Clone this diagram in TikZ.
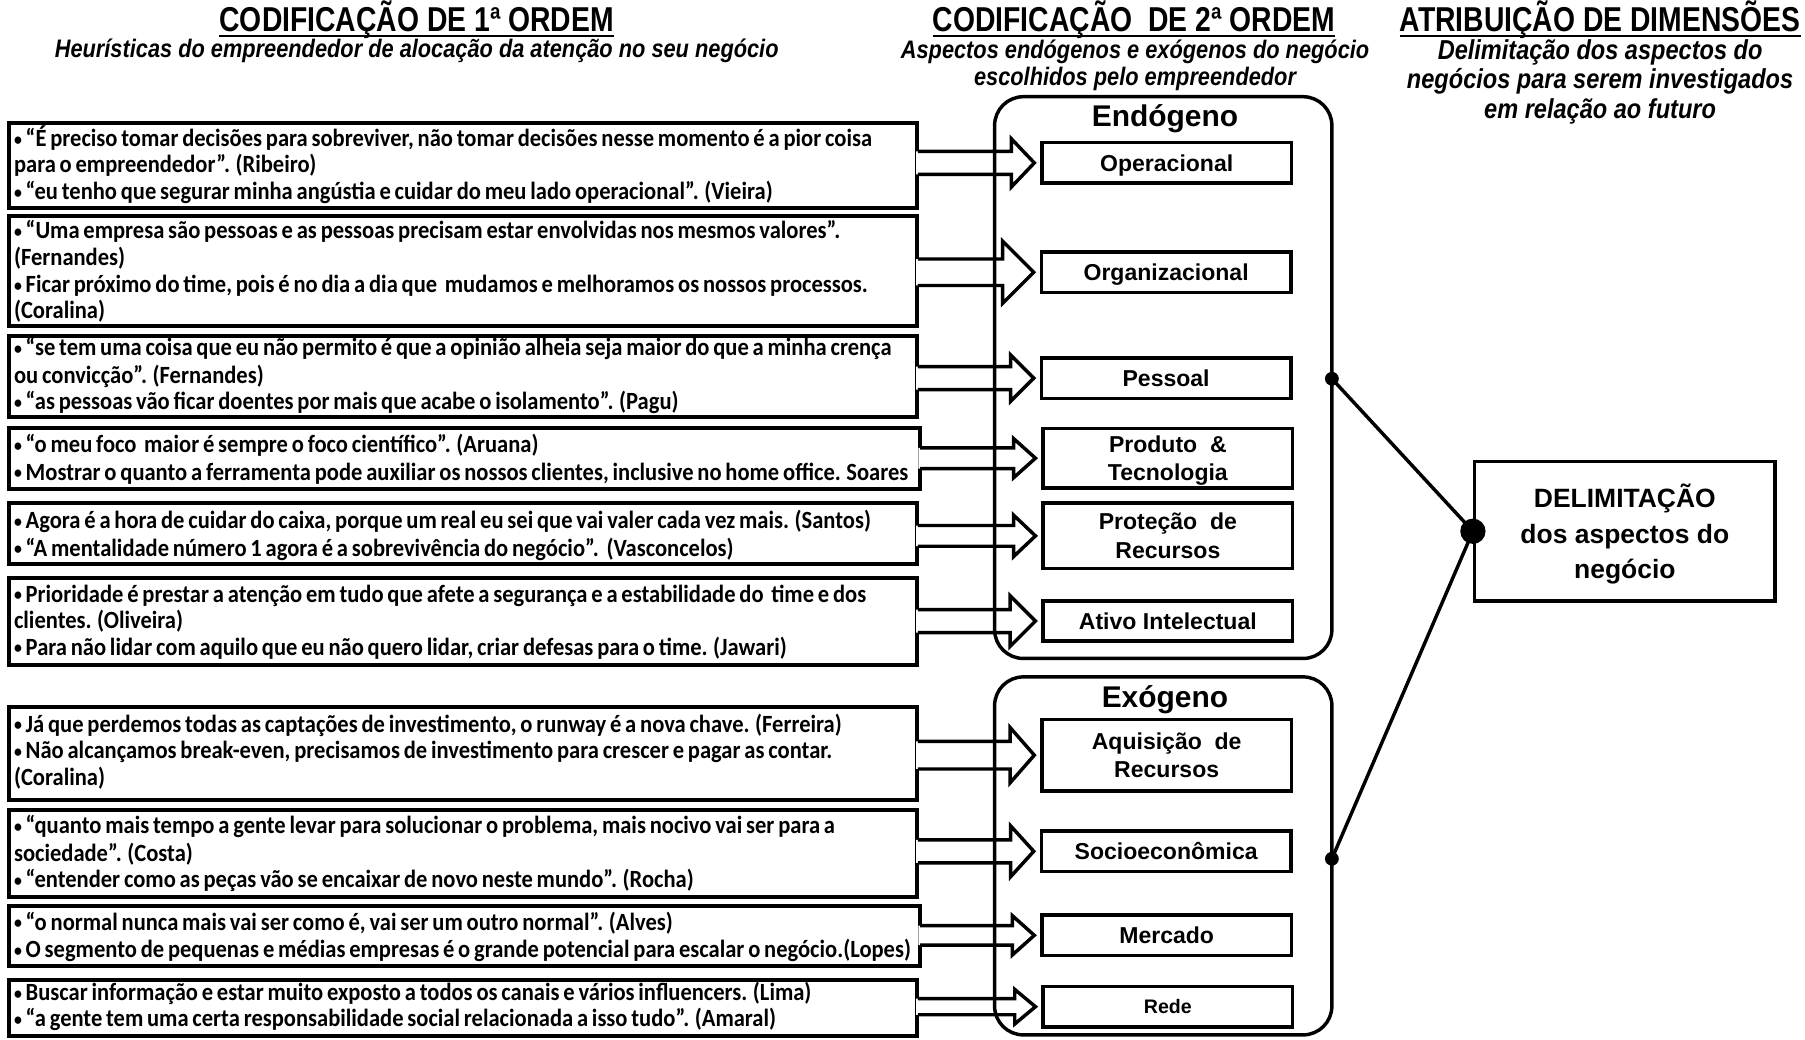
\documentclass[tikz,border=0pt]{standalone}
\usepackage{fontspec}
\usepackage{graphicx}
\usetikzlibrary{calc,fit}
\setmainfont{Liberation Sans}
\newfontfamily\qfont{Carlito}[FakeStretch=0.91, WordSpace=0.75]
\newfontfamily\hfont{Liberation Sans}[FakeStretch=0.82]
\newfontfamily\sfont{Liberation Sans}[FakeStretch=0.86]

% small list bullet used in the quotes
\newcommand\qb{\raisebox{1pt}{\scalebox{0.7}{•}}}

\tikzset{
  qbox/.style={draw, line width=3.5pt, inner sep=0pt},
  qtext/.style={anchor=base west, inner sep=0pt,
    font=\qfont\bfseries\fontsize{21.5}{24}\selectfont},
  catbox/.style={draw, line width=3pt, fill=white, inner sep=0pt, text depth=0pt,
    minimum width=217pt, minimum height=35pt, align=center,
    font=\bfseries\fontsize{20}{25}\selectfont},
  groupbox/.style={draw, line width=3pt, rounded corners=25pt, inner sep=0pt},
  grouptitle/.style={anchor=base, inner sep=0pt, font=\bfseries\fontsize{26}{30}\selectfont},
  htitle/.style={anchor=base, inner sep=0pt, font=\hfont\bfseries\fontsize{30}{34}\selectfont},
  hsub/.style={anchor=base, inner sep=0pt, font=\sfont\bfseries\itshape\fontsize{22}{26}\selectfont},
  hsubwide/.style={anchor=base, inner sep=0pt, font=\sfont\bfseries\itshape\fontsize{23.8}{27}\selectfont},
  uline/.style={line width=2pt},
  arrowline/.style={line width=3pt, line join=miter},
  link/.style={line width=3pt},
  resultbox/.style={draw, line width=3pt, inner sep=0pt, align=center, text depth=0pt,
    font=\bfseries\fontsize{23}{30.5}\selectfont},
}

% outlined block arrow from a quote box (#1) to a category box (#2);
% #3 shaft half width, #4 head half width, #5 head length
\newcommand\blockarrow[5]{%
  \coordinate (#2-s) at (#1.east |- #2.west);
  \coordinate (#2-t) at ($(#2.west)+(-5,0)$);
  \path[fill=white] ($(#2-s)+(-3,-#3)$) -- ($(#2-t)+(-#5,-#3)$) -- ($(#2-t)+(-#5,-#4)$)
     -- (#2-t) -- ($(#2-t)+(-#5,#4)$) -- ($(#2-t)+(-#5,#3)$) -- ($(#2-s)+(-3,#3)$) -- cycle;
  \draw[arrowline] ($(#2-s)+(-1.5,-#3)$) -- ($(#2-t)+(-#5,-#3)$) -- ($(#2-t)+(-#5,-#4)$)
     -- (#2-t) -- ($(#2-t)+(-#5,#4)$) -- ($(#2-t)+(-#5,#3)$) -- ($(#2-s)+(-1.5,#3)$);
}

\begin{document}
\begin{tikzpicture}[x=1pt,y=-1pt]
\useasboundingbox (0,0) rectangle (1568,903);

% ---------- column headings ----------
\node[htitle] (h1) at (362,27) {CODIFICAÇÃO DE 1ª ORDEM};
\node[htitle] (h2) at (985,27) {CODIFICAÇÃO\ \ DE 2ª ORDEM};
\node[htitle] (h3) at (1390,27) {ATRIBUIÇÃO DE DIMENSÕES};
\foreach \h in {h1,h2,h3}
  \draw[uline] ($(\h.base west)+(0,4)$) -- ($(\h.base east)+(0,4)$);

\node[hsub] (s1) at (362,50) {Heurísticas do empreendedor de alocação da atenção no seu negócio};
\node[hsub] (s2a) at (986,51) {Aspectos endógenos e exógenos do negócio};
\node[hsub] (s2b) at (986,74) {escolhidos pelo empreendedor};
\node[hsubwide] (s3a) at (1390,52) {Delimitação dos aspectos do};
\node[hsubwide] (s3b) at (1390,77) {negócios para serem investigados};
\node[hsubwide] (s3c) at (1390,103) {em relação ao futuro};

% ---------- quote boxes ----------
\node[qbox, fit={(8,107) (797,181)}] (q1) {};
\node[qbox, fit={(8,188) (797,283)}] (q2) {};
\node[qbox, fit={(8,292) (797,362)}] (q3) {};
\node[qbox, fit={(8,372) (799,425)}] (q4) {};
\node[qbox, fit={(8,437) (797,490)}] (q5) {};
\node[qbox, fit={(8,502) (797,578)}] (q6) {};
\node[qbox, fit={(8,614) (797,695)}] (q7) {};
\node[qbox, fit={(8,704) (797,779)}] (q8) {};
\node[qbox, fit={(8,787) (799,839)}] (q9) {};
\node[qbox, fit={(8,851) (797,900)}] (q10) {};

% ---------- category boxes ----------
\node[catbox] (c1) at (1013.5,141.5) {Operacional};
\node[catbox] (c2) at (1013,236.5) {Organizacional};
\node[catbox] (c3) at (1013,328.5) {Pessoal};
\node[catbox, minimum height=52pt] (c4) at (1014.5,398) {Produto\ \ \&\\Tecnologia};
\node[catbox, minimum height=57pt] (c5) at (1014.5,465.5) {Proteção\ \ de\\Recursos};
\node[catbox] (c6) at (1014.5,539.5) {Ativo Intelectual};
\node[catbox, minimum height=62pt] (c7) at (1013.5,656) {Aquisição\ \ de\\Recursos};
\node[catbox] (c8) at (1013,739.5) {Socioeconômica};
\node[catbox] (c9) at (1013.5,812.5) {Mercado};
\node[catbox, font=\bfseries\fontsize{17}{20}\selectfont] (c10) at (1014.5,874.5) {Rede};

% ---------- block arrows ----------
\blockarrow{q1}{c1}{10}{21}{20}
\blockarrow{q2}{c2}{11.5}{27}{27}
\blockarrow{q3}{c3}{10}{20}{20}
\blockarrow{q4}{c4}{9}{17}{19}
\blockarrow{q5}{c5}{9}{18}{19}
\blockarrow{q6}{c6}{10}{22}{22}
\blockarrow{q7}{c7}{12}{24}{21}
\blockarrow{q8}{c8}{10}{22}{20}
\blockarrow{q9}{c9}{8.5}{17}{19}
\blockarrow{q10}{c10}{7}{15}{18}

% ---------- quote texts ----------
\node[qtext] (t1a) at (12,127) {\qb{} “É preciso tomar decisões para sobreviver, não tomar decisões nesse momento é a pior coisa};
\node[qtext] (t1b) at (12,150) {para o empreendedor”. (Ribeiro)};
\node[qtext] (t1c) at (12,173) {\qb{} “eu tenho que segurar minha angústia e cuidar do meu lado operacional”. (Vieira)};

\node[qtext] (t2a) at (12,207) {\qb{} “Uma empresa são pessoas e as pessoas precisam estar envolvidas nos mesmos valores”.};
\node[qtext] (t2b) at (12,231) {(Fernandes)};
\node[qtext] (t2c) at (12,254) {\qb{} Ficar próximo do time, pois é no dia a dia que\ \ mudamos e melhoramos os nossos processos.};
\node[qtext] (t2d) at (12,277) {(Coralina)};

\node[qtext] (t3a) at (12,309) {\qb{} “se tem uma coisa que eu não permito é que a opinião alheia seja maior do que a minha crença};
\node[qtext] (t3b) at (12,333) {ou convicção”. (Fernandes)};
\node[qtext] (t3c) at (12,356) {\qb{} “as pessoas vão ficar doentes por mais que acabe o isolamento”. (Pagu)};

\node[qtext] (t4a) at (12,393) {\qb{} “o meu foco\ \ maior é sempre o foco científico”. (Aruana)};
\node[qtext] (t4b) at (12,417) {\qb{} Mostrar o quanto a ferramenta pode auxiliar os nossos clientes, inclusive no home office. Soares};

\node[qtext] (t5a) at (12,459) {\qb{} Agora é a hora de cuidar do caixa, porque um real eu sei que vai valer cada vez mais. (Santos)};
\node[qtext] (t5b) at (12,483) {\qb{} “A mentalidade número 1 agora é a sobrevivência do negócio”.\ \ (Vasconcelos)};

\node[qtext] (t6a) at (12,523) {\qb{} Prioridade é prestar a atenção em tudo que afete a segurança e a estabilidade do\ \ time e dos};
\node[qtext] (t6b) at (12,546) {clientes. (Oliveira)};
\node[qtext] (t6c) at (12,569) {\qb{} Para não lidar com aquilo que eu não quero lidar, criar defesas para o time. (Jawari)};

\node[qtext] (t7a) at (12,636) {\qb{} Já que perdemos todas as captações de investimento, o runway é a nova chave. (Ferreira)};
\node[qtext] (t7b) at (12,659) {\qb{} Não alcançamos break-even, precisamos de investimento para crescer e pagar as contar.};
\node[qtext] (t7c) at (12,682) {(Coralina)};

\node[qtext] (t8a) at (12,724) {\qb{} “quanto mais tempo a gente levar para solucionar o problema, mais nocivo vai ser para a};
\node[qtext] (t8b) at (12,748) {sociedade”. (Costa)};
\node[qtext] (t8c) at (12,771) {\qb{} “entender como as peças vão se encaixar de novo neste mundo”. (Rocha)};

\node[qtext] (t9a) at (12,808) {\qb{} “o normal nunca mais vai ser como é, vai ser um outro normal”. (Alves)};
\node[qtext] (t9b) at (12,832) {\qb{} O segmento de pequenas e médias empresas é o grande potencial para escalar o negócio.(Lopes)};

\node[qtext] (t10a) at (12,869) {\qb{} Buscar informação e estar muito exposto a todos os canais e vários influencers. (Lima)};
\node[qtext] (t10b) at (12,892) {\qb{} “a gente tem uma certa responsabilidade social relacionada a isso tudo”. (Amaral)};

% ---------- endogenous / exogenous groups ----------
\node[groupbox, fit={(864,84) (1157,572)}] (endo) {};
\node[grouptitle] (endot) at (1012,110) {Endógeno};
\node[groupbox, fit={(864,588) (1157,899)}] (exo) {};
\node[grouptitle] (exot) at (1012,615) {Exógeno};

% ---------- result ----------
\node[resultbox, minimum width=261pt, minimum height=121pt] (res) at (1411.5,461.5)
  {DELIMITAÇÃO\\dos aspectos do\\negócio};

\coordinate (endodot) at (1157,329);
\coordinate (exodot) at (1157,746);
\coordinate (resdot) at (res.west);
\draw[link] (endodot) -- (resdot);
\draw[link] (exodot) -- (resdot);
\fill (endodot) circle (6);
\fill (exodot) circle (6);
\fill (resdot) circle (11);
\end{tikzpicture}
\end{document}
